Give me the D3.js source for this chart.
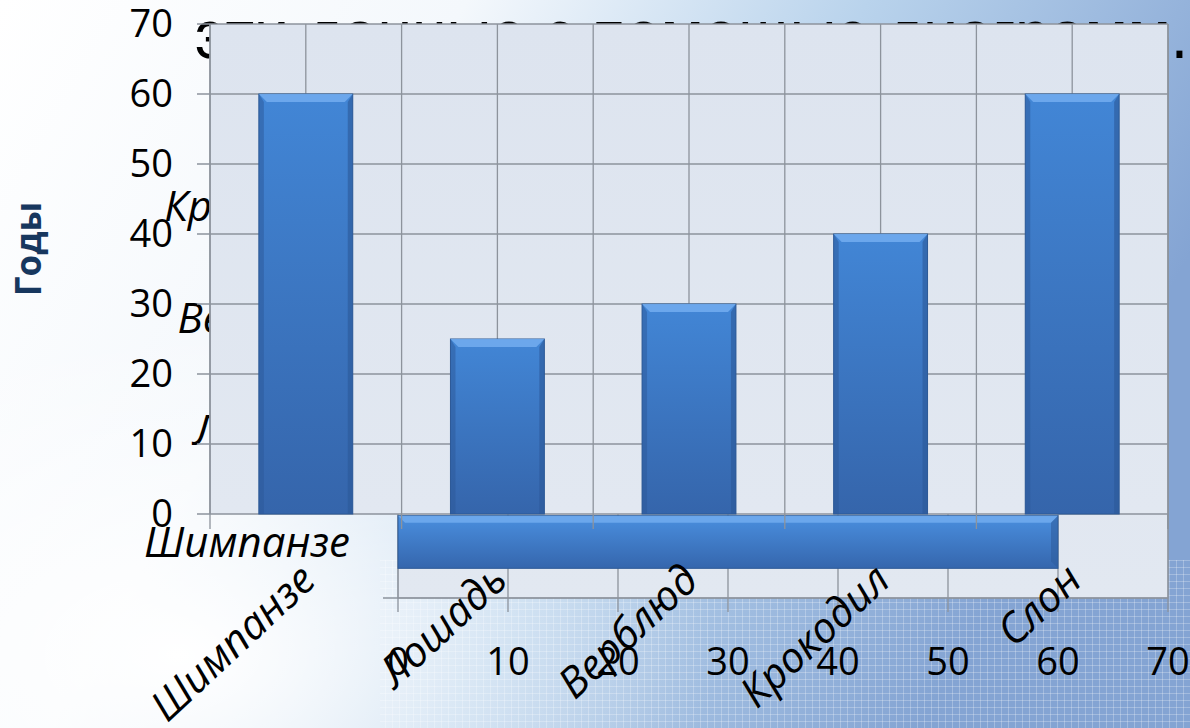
<!DOCTYPE html>
<html lang="ru">
<head>
<meta charset="UTF-8">
<title>Годы</title>
<script src="https://cdn.jsdelivr.net/npm/d3@7"></script>
<style>
    html, body { margin: 0; padding: 0; overflow: hidden; }
    svg { display: block; }
</style>
</head>
<body>
<div id="chart"></div>
<script>
    // данные
    var categories = ["Шимпанзе", "Лошадь", "Верблюд", "Крокодил", "Слон"];
    var lifespans = [60, 25, 30, 40, 60];
    var valueTicks = [0, 10, 20, 30, 40, 50, 60, 70];
    var axisTitle = "Годы";
    var slideLine = "эти данные с помощью диаграмм.";

    var width = 1190, height = 728;

    var svg = d3.select("#chart").append("svg")
        .attr("width", width)
        .attr("height", height);

    var defs = svg.append("defs");

    // фон слайда
    var bg = defs.append("linearGradient").attr("id", "slideBg")
        .attr("x1", 0).attr("y1", 0).attr("x2", 1).attr("y2", 0.35);
    bg.append("stop").attr("offset", "0%").attr("stop-color", "#ffffff");
    bg.append("stop").attr("offset", "35%").attr("stop-color", "#f4f8fc");
    bg.append("stop").attr("offset", "65%").attr("stop-color", "#b9d3ec");
    bg.append("stop").attr("offset", "100%").attr("stop-color", "#84a4d3");

    var glow = defs.append("radialGradient").attr("id", "slideGlow")
        .attr("cx", 0.15).attr("cy", 0.9).attr("r", 0.45);
    glow.append("stop").attr("offset", "0%").attr("stop-color", "#ffffff").attr("stop-opacity", 1);
    glow.append("stop").attr("offset", "100%").attr("stop-color", "#ffffff").attr("stop-opacity", 0);

    var grid = defs.append("pattern").attr("id", "texture")
        .attr("width", 7).attr("height", 7).attr("patternUnits", "userSpaceOnUse");
    grid.append("path").attr("d", "M0,0.5H7M0.5,0V7")
        .attr("stroke", "#ffffff").attr("stroke-opacity", 0.25).attr("fill", "none");

    var plotBg = defs.append("linearGradient").attr("id", "plotBg")
        .attr("x1", 0).attr("y1", 0).attr("x2", 0).attr("y2", 1);
    plotBg.append("stop").attr("offset", "0%").attr("stop-color", "#dde4ef");
    plotBg.append("stop").attr("offset", "100%").attr("stop-color", "#e2e8f1");

    var barGrad = defs.append("linearGradient").attr("id", "barGrad")
        .attr("x1", 0).attr("y1", 0).attr("x2", 0).attr("y2", 1);
    barGrad.append("stop").attr("offset", "0%").attr("stop-color", "#4286d6");
    barGrad.append("stop").attr("offset", "100%").attr("stop-color", "#3565ab");

    var hbarGrad = defs.append("linearGradient").attr("id", "hbarGrad")
        .attr("x1", 0).attr("y1", 0).attr("x2", 0).attr("y2", 1);
    hbarGrad.append("stop").attr("offset", "0%").attr("stop-color", "#4a8fdf");
    hbarGrad.append("stop").attr("offset", "100%").attr("stop-color", "#3566ad");

    svg.append("rect").attr("width", width).attr("height", height).attr("fill", "url(#slideBg)");
    svg.append("rect").attr("width", width).attr("height", height).attr("fill", "url(#slideGlow)");
    svg.append("rect").attr("x", 380).attr("y", 560).attr("width", 810).attr("height", 168)
        .attr("fill", "url(#texture)");

    // строка текста слайда (позади диаграммы)
    svg.append("text")
        .attr("x", 195).attr("y", 58)
        .attr("textLength", 993)
        .attr("lengthAdjust", "spacingAndGlyphs")
        .style("font-family", "'Liberation Sans', Arial, sans-serif")
        .style("font-size", "68px")
        .style("fill", "#000")
        .text(slideLine);

    var labelFont = "'Open Sans', 'Noto Sans', sans-serif";

    // ---------- задняя диаграмма: горизонтальные полосы ----------
    var xB = d3.scaleLinear().domain([0, 70]).range([398, 1168]);
    var yB = d3.scaleBand().domain(categories).range([598, 38])
        .paddingInner(0.53).paddingOuter(0.265);

    var gB = svg.append("g");
    gB.append("rect")
        .attr("x", xB(0)).attr("y", 38)
        .attr("width", xB(70) - xB(0)).attr("height", 560)
        .attr("fill", "url(#plotBg)")
        .attr("stroke", "#8d939c");

    gB.selectAll(".vgridB").data(valueTicks).enter().append("line")
        .attr("x1", function (d) { return xB(d); })
        .attr("x2", function (d) { return xB(d); })
        .attr("y1", 38).attr("y2", 612)
        .attr("stroke", "#8d939c").attr("stroke-width", 1.3);

    gB.append("line").attr("x1", 383).attr("x2", 1168).attr("y1", 598).attr("y2", 598)
        .attr("stroke", "#8d939c").attr("stroke-width", 1.3);

    var hbar = gB.selectAll(".hbar").data(categories).enter().append("g");
    hbar.append("rect")
        .attr("x", xB(0))
        .attr("y", function (d) { return yB(d); })
        .attr("width", function (d, i) { return xB(lifespans[i]) - xB(0); })
        .attr("height", yB.bandwidth())
        .attr("fill", "url(#hbarGrad)")
        .attr("stroke", "#2d5a96");
    hbar.append("path")
        .attr("d", function (d, i) {
            var x0 = xB(0), x1 = xB(lifespans[i]), y0 = yB(d), b = 7;
            return "M" + x0 + "," + y0 + "H" + x1 + "L" + (x1 - b) + "," + (y0 + b) + "H" + (x0 + b) + "Z";
        })
        .attr("fill", "#74aef0").attr("opacity", 0.8);
    hbar.append("path")
        .attr("d", function (d, i) {
            var x1 = xB(lifespans[i]), y0 = yB(d), y1 = y0 + yB.bandwidth(), b = 7;
            return "M" + x1 + "," + y0 + "V" + y1 + "L" + (x1 - b) + "," + (y1 - b) + "V" + (y0 + b) + "Z";
        })
        .attr("fill", "#2f5e9f").attr("opacity", 0.6);

    gB.selectAll(".xlabB").data(valueTicks).enter().append("text")
        .attr("x", function (d) { return xB(d); })
        .attr("y", 662)
        .attr("dy", "0.35em")
        .attr("text-anchor", "middle")
        .style("font-family", labelFont)
        .style("font-size", "38px")
        .style("fill", "#000")
        .text(function (d) { return d; });

    gB.selectAll(".ylabB").data(categories).enter().append("text")
        .attr("x", 350)
        .attr("y", function (d) { return yB(d) + yB.bandwidth() / 2; })
        .attr("dy", "0.35em")
        .attr("text-anchor", "end")
        .style("font-family", labelFont)
        .style("font-style", "italic")
        .style("font-size", "42px")
        .style("fill", "#000")
        .text(function (d) { return d; });

    // ---------- передняя диаграмма: столбцы ----------
    var xA = d3.scaleBand().domain(categories).range([210, 1168])
        .paddingInner(0.51).paddingOuter(0.255);
    var yA = d3.scaleLinear().domain([0, 70]).range([514, 24]);

    var gA = svg.append("g");
    gA.append("rect")
        .attr("x", 210).attr("y", yA(70))
        .attr("width", 958).attr("height", yA(0) - yA(70))
        .attr("fill", "url(#plotBg)");

    var halfSteps = d3.range(0, categories.length * 2 + 1).map(function (i) {
        return xA.range()[0] + i * xA.step() / 2;
    });
    gA.selectAll(".vgridA").data(halfSteps).enter().append("line")
        .attr("x1", function (d) { return d; })
        .attr("x2", function (d) { return d; })
        .attr("y1", yA(70))
        .attr("y2", function (d, i) { return i % 2 === 0 ? yA(0) + 15 : yA(0); })
        .attr("stroke", "#8d939c").attr("stroke-width", 1.3);

    gA.selectAll(".hgridA").data(valueTicks).enter().append("line")
        .attr("x1", 197).attr("x2", 1168)
        .attr("y1", function (d) { return yA(d); })
        .attr("y2", function (d) { return yA(d); })
        .attr("stroke", "#8d939c").attr("stroke-width", 1.3);

    var bar = gA.selectAll(".bar").data(categories).enter().append("g");
    bar.append("rect")
        .attr("x", function (d) { return xA(d); })
        .attr("y", function (d, i) { return yA(lifespans[i]); })
        .attr("width", xA.bandwidth())
        .attr("height", function (d, i) { return yA(0) - yA(lifespans[i]); })
        .attr("fill", "url(#barGrad)")
        .attr("stroke", "#2d5a96");
    bar.append("path")
        .attr("d", function (d, i) {
            var x0 = xA(d), x1 = x0 + xA.bandwidth(), y0 = yA(lifespans[i]), b = 8;
            return "M" + x0 + "," + y0 + "H" + x1 + "L" + (x1 - b) + "," + (y0 + b) + "H" + (x0 + b) + "Z";
        })
        .attr("fill", "#73adf0").attr("opacity", 0.85);
    bar.append("path")
        .attr("d", function (d, i) {
            var x0 = xA(d), y0 = yA(lifespans[i]), y1 = yA(0), b = 5;
            return "M" + x0 + "," + y0 + "V" + y1 + "H" + (x0 + b) + "V" + (y0 + 8) + "Z";
        })
        .attr("fill", "#2c5897").attr("opacity", 0.5);
    bar.append("path")
        .attr("d", function (d, i) {
            var x1 = xA(d) + xA.bandwidth(), y0 = yA(lifespans[i]), y1 = yA(0), b = 5;
            return "M" + x1 + "," + y0 + "V" + y1 + "H" + (x1 - b) + "V" + (y0 + 8) + "Z";
        })
        .attr("fill", "#2c5897").attr("opacity", 0.6);

    gA.append("line").attr("x1", 210).attr("x2", 210).attr("y1", yA(70)).attr("y2", yA(0))
        .attr("stroke", "#8d939c").attr("stroke-width", 1.5);
    gA.append("line").attr("x1", 1168).attr("x2", 1168).attr("y1", yA(70)).attr("y2", yA(0) + 15)
        .attr("stroke", "#8d939c").attr("stroke-width", 1.5);

    gA.selectAll(".ylabA").data(valueTicks).enter().append("text")
        .attr("x", 173)
        .attr("y", function (d) { return yA(d); })
        .attr("dy", "0.35em")
        .attr("text-anchor", "end")
        .style("font-family", labelFont)
        .style("font-size", "38px")
        .style("fill", "#000")
        .text(function (d) { return d; });

    gA.selectAll(".xlabA").data(categories).enter().append("text")
        .attr("transform", function (d) {
            return "translate(" + (xA(d) + xA.bandwidth() / 2 + 12) + "," + 583 + ") rotate(-43)";
        })
        .attr("text-anchor", "end")
        .style("font-family", labelFont)
        .style("font-style", "italic")
        .style("font-size", "42px")
        .style("fill", "#000")
        .text(function (d) { return d; });

    // подпись оси
    svg.append("text")
        .attr("transform", "translate(41,249) rotate(-90)")
        .attr("text-anchor", "middle")
        .style("font-family", labelFont)
        .style("font-weight", "bold")
        .style("font-size", "35px")
        .style("fill", "#17375e")
        .text(axisTitle);
</script>
</body>
</html>
